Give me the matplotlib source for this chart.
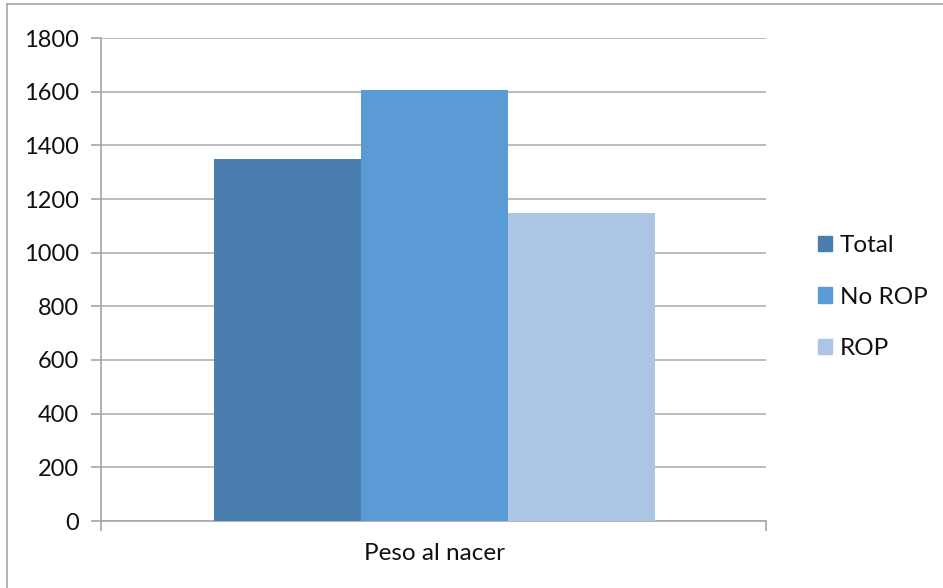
import matplotlib.pyplot as plt
from matplotlib.patches import Rectangle
from matplotlib.lines import Line2D

series = ['Total', 'No ROP', 'ROP']
values = [1350, 1606, 1148]
colors = ['#4a7eaf', '#5b9bd5', '#adc5e5']
category = 'Peso al nacer'
yticks = list(range(0, 1801, 200))

plt.rcParams['font.family'] = ['Lato', 'DejaVu Sans']
plt.rcParams['text.color'] = '#111111'
W, H = 943, 588
fig = plt.figure(figsize=(W / 100, H / 100), dpi=100)
ax = fig.add_axes([101 / W, 1 - 521 / H, 665 / W, 483 / H])

grey = '#a6a6a6'
xs = [-1, 0, 1]
handles = []
for x, v, c, s in zip(xs, values, colors, series):
    ax.bar(x, v, width=1.0, color=c, zorder=3)
    handles.append(Rectangle((0, 0), 1, 1, color=c))

half = 665 / 147 / 2
ax.set_xlim(-half - 0.01, half - 0.01)
ax.set_ylim(0, 1800)
ax.set_yticks(yticks)
ax.grid(axis='y', color='#b0b0b0', linewidth=1.2, zorder=0)
ax.set_xticks([0])
ax.set_xticklabels([category], fontsize=17.5, color='#111111')
ax.set_xticks([-half - 0.01, half - 0.01], minor=True)
ax.tick_params(axis='x', which='major', length=0, pad=16)
ax.tick_params(axis='x', which='minor', length=7, color=grey, width=1.2)
ax.tick_params(axis='y', length=7, color=grey, width=1.2, labelsize=17,
               labelcolor='#111111', pad=9)
for side in ['top', 'right']:
    ax.spines[side].set_visible(False)
for side in ['left', 'bottom']:
    ax.spines[side].set_color(grey)
    ax.spines[side].set_linewidth(1.2)
ax.set_axisbelow(True)

leg = fig.legend(handles, series, loc='center left', bbox_to_anchor=(796 / W, 1 - 297 / H),
                 frameon=False, fontsize=17.5, handlelength=0.6, handleheight=0.6,
                 handletextpad=0.3, labelspacing=1.25)

# outer chart border (only top and left visible in frame)
fig.add_artist(Line2D([7 / W, 1], [1 - 4 / H, 1 - 4 / H], color=grey, linewidth=1.2))
fig.add_artist(Line2D([7 / W, 7 / W], [0, 1 - 4 / H], color=grey, linewidth=1.2))

fig.savefig('out.png', dpi=100)
